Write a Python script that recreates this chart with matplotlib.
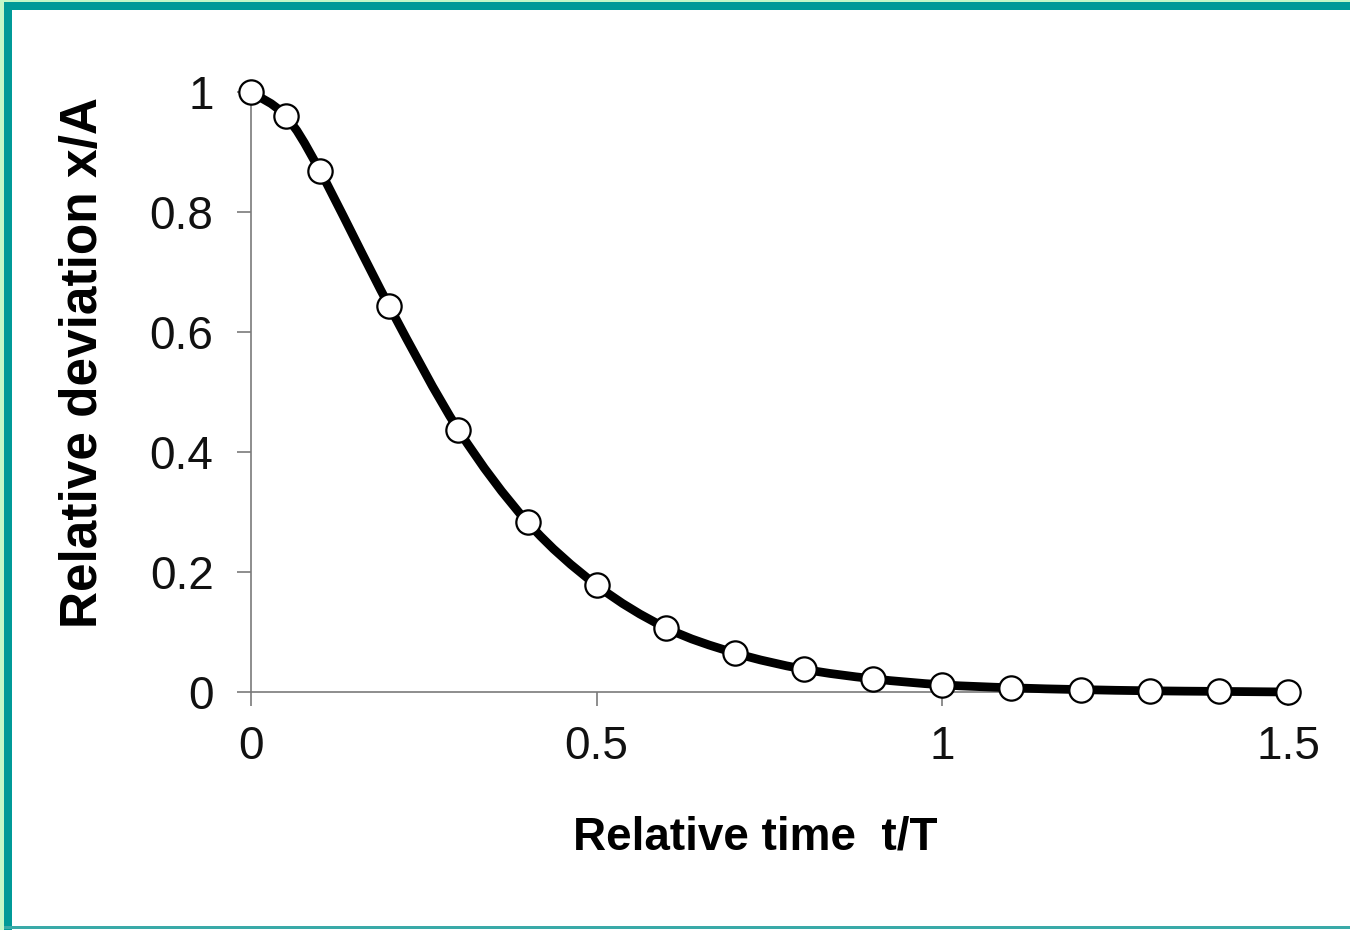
import matplotlib
matplotlib.use("Agg")
import matplotlib.pyplot as plt
from matplotlib.path import Path
from matplotlib.patches import PathPatch, Rectangle

plt.rcParams['font.family'] = ['Liberation Sans', 'DejaVu Sans']

# values
rel_time = [0, 0.05, 0.1, 0.2, 0.3, 0.4, 0.5, 0.6, 0.7, 0.8, 0.9,
            1.0, 1.1, 1.2, 1.3, 1.4, 1.5]
rel_dev = [1.0, 0.96, 0.868, 0.643, 0.437, 0.283, 0.178, 0.107, 0.065, 0.038,
           0.022, 0.012, 0.007, 0.004, 0.002, 0.001, 0.0]
x_ticks = [0, 0.5, 1, 1.5]
x_tick_labels = ["0", "0.5", "1", "1.5"]
y_ticks = [0, 0.2, 0.4, 0.6, 0.8, 1]
y_tick_labels = ["0", "0.2", "0.4", "0.6", "0.8", "1"]

fig = plt.figure(figsize=(13.5, 9.3), dpi=100)
ax = fig.add_axes([251 / 1350, 1 - 692 / 930, 1037 / 1350, 600 / 930])

# smoothed line like a spreadsheet "smooth line" (Catmull-Rom as cubic Bezier)
pts = list(zip(rel_time, rel_dev))
verts = [pts[0]]
codes = [Path.MOVETO]
n = len(pts)
for i in range(n - 1):
    p0 = pts[i - 1] if i > 0 else pts[i]
    p1 = pts[i]
    p2 = pts[i + 1]
    p3 = pts[i + 2] if i + 2 < n else pts[i + 1]
    c1 = (p1[0] + (p2[0] - p0[0]) / 6, p1[1] + (p2[1] - p0[1]) / 6)
    c2 = (p2[0] - (p3[0] - p1[0]) / 6, p2[1] - (p3[1] - p1[1]) / 6)
    verts += [c1, c2, p2]
    codes += [Path.CURVE4] * 3
curve = PathPatch(Path(verts, codes), facecolor="none", edgecolor="black",
                  linewidth=6.3, capstyle="round", joinstyle="round",
                  clip_on=False, zorder=3)
ax.add_patch(curve)

ax.plot(rel_time, rel_dev, linestyle="none", marker="o", markersize=17.5,
        markerfacecolor="white", markeredgecolor="black", markeredgewidth=1.6,
        clip_on=False, zorder=4)

ax.set_xlim(0, 1.5)
ax.set_ylim(0, 1)
ax.set_xticks(x_ticks)
ax.set_xticklabels(x_tick_labels)
ax.set_yticks(y_ticks)
ax.set_yticklabels(y_tick_labels)

for side in ["top", "right"]:
    ax.spines[side].set_visible(False)
for side in ["left", "bottom"]:
    ax.spines[side].set_color("#7a7a7a")
    ax.spines[side].set_linewidth(1.2)
ax.tick_params(axis="both", direction="out", length=10, width=1.2,
               color="#7a7a7a", labelsize=33, labelcolor="#111111")
ax.tick_params(axis="y", pad=17)
ax.tick_params(axis="x", pad=14)

ax.set_xlabel("Relative time  t/T", fontsize=33, fontweight="bold")
ax.set_ylabel("Relative deviation x/A", fontsize=37, fontweight="bold")
ax.xaxis.set_label_coords(0.486, -0.205)
ax.yaxis.set_label_coords(-0.138, 0.55)

# slide frame: light green edge, teal border on left, top and bottom
tf = fig.transFigure
fig.add_artist(Rectangle((0, 0), 4 / 1350, 1, transform=tf,
                         facecolor="#c4f8c8", edgecolor="none", zorder=0))
fig.add_artist(Rectangle((0, 1 - 2 / 930), 1, 2 / 930, transform=tf,
                         facecolor="#c4f8c8", edgecolor="none", zorder=0))
fig.add_artist(Rectangle((4 / 1350, 0), 8 / 1350, 1 - 2 / 930, transform=tf,
                         facecolor="#009a98", edgecolor="none", zorder=1))
fig.add_artist(Rectangle((4 / 1350, 1 - 10 / 930), 1, 8 / 930, transform=tf,
                         facecolor="#009a98", edgecolor="none", zorder=1))
fig.add_artist(Rectangle((4 / 1350, 1 / 930), 1, 3 / 930, transform=tf,
                         facecolor="#3aaaa8", edgecolor="none", zorder=1))

fig.savefig("out.png", dpi=100)
